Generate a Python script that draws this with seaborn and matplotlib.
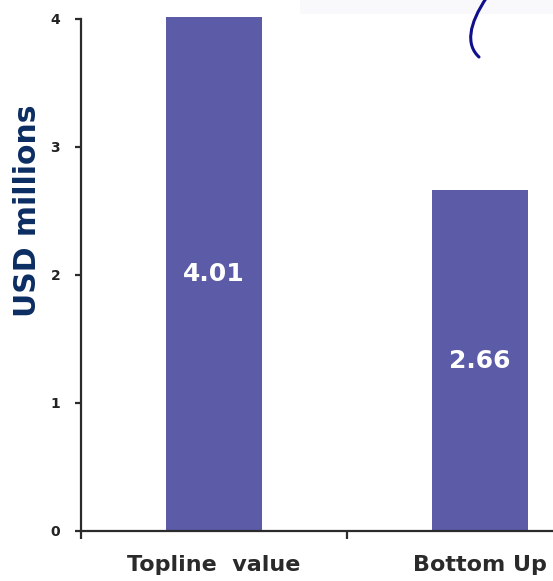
import matplotlib
matplotlib.use("Agg")
import matplotlib.pyplot as plt
import seaborn as sns
import pandas as pd
from matplotlib.path import Path
from matplotlib.patches import PathPatch, Rectangle

# Chart data
categories = ["Topline  value", "Bottom Up"]
values = [4.01, 2.66]
value_labels = ["4.01", "2.66"]
y_ticks = [0, 1, 2, 3, 4]

sns.set_style("ticks")
plt.rcParams["font.family"] = ["DejaVu Sans"]

W, H = 553, 581
fig = plt.figure(figsize=(W / 100, H / 100), dpi=100)
fig.patch.set_facecolor("white")

# Axes run past the right edge of the canvas (the x axis continues off-frame)
ax = fig.add_axes([81 / W, 50 / H, 532 / W, 512.5 / H])

df = pd.DataFrame({"category": categories, "value": values})
sns.barplot(data=df, x="category", y="value", color="#5b5ba8", saturation=1,
            width=0.36, edgecolor="none", ax=ax)
for p in ax.patches:
    p.set_clip_on(False)

ax.set_xlim(-0.5, 1.5)
ax.set_ylim(0, 4)
sns.despine(ax=ax)
for side in ("left", "bottom"):
    ax.spines[side].set_linewidth(1.6)
    ax.spines[side].set_color("#2b2b2b")

# y axis
ax.set_yticks(y_ticks)
ax.set_yticklabels([str(t) for t in y_ticks], fontsize=10, fontweight="bold",
                   color="#222222")
ax.tick_params(axis="y", length=4, width=1.6, color="#2b2b2b", pad=11)

# x axis: tick marks at category boundaries, labels centred under bars
ax.set_xticks([-0.5, 0.5, 1.5])
ax.set_xticklabels([])
ax.set_xticks([0, 1], minor=True)
ax.set_xticklabels(categories, minor=True, fontsize=16, fontweight="bold",
                   color="#2a2a2a")
ax.tick_params(axis="x", which="major", length=6, width=1.6, color="#2b2b2b")
ax.tick_params(axis="x", which="minor", length=0, pad=17)
ax.set_xlabel("")

ax.set_ylabel("USD millions", fontsize=21.5, fontweight="bold", color="#0c2d62",
              va="center")
ax.yaxis.set_label_coords(-0.1015, 0.624)

# Value labels inside the bars
for i, (v, lab) in enumerate(zip(values, value_labels)):
    ax.text(i, v / 2, lab, color="white", fontsize=18, fontweight="bold",
            ha="center", va="center")

# Faint band and pen stroke along the top edge
fig.add_artist(Rectangle((300 / W, 1 - 14 / H), 253 / W, 14 / H,
                         transform=fig.transFigure, facecolor="#f9f9fb",
                         edgecolor="none", zorder=-1))
pts = [(487, -3), (468, 25), (466, 45), (479, 57)]
verts = [(x / W, 1 - y / H) for x, y in pts]
stroke = Path(verts, [Path.MOVETO, Path.CURVE4, Path.CURVE4, Path.CURVE4])
fig.add_artist(PathPatch(stroke, transform=fig.transFigure, fill=False,
                         edgecolor="#10108c", lw=2.2, capstyle="round"))

fig.savefig("out.png", dpi=100)
